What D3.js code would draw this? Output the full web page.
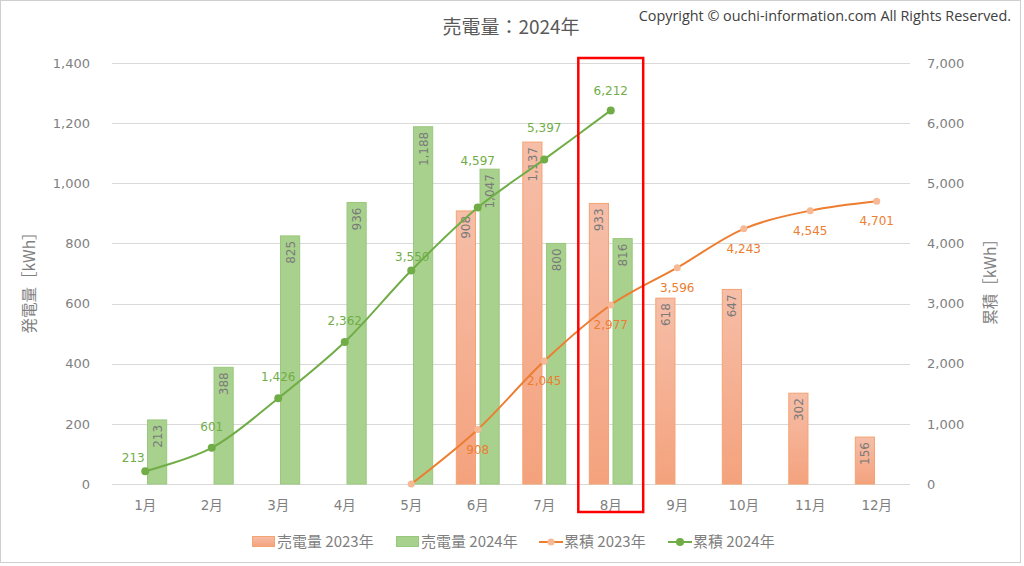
<!DOCTYPE html>
<html><head><meta charset="utf-8">
<script src="https://cdn.jsdelivr.net/npm/d3@7"></script>
<style>
html,body{margin:0;padding:0;background:#fff;}
svg{display:block;}
</style></head>
<body>
<svg id="chart" width="1024" height="566"></svg>
<script>
const months = ["1月","2月","3月","4月","5月","6月","7月","8月","9月","10月","11月","12月"];
const sales2023 = [null,null,null,null,null,908,1137,933,618,647,302,156];
const sales2024 = [213,388,825,936,1188,1047,800,816,null,null,null,null];
const cum2023 = [null,null,null,null,0,908,2045,2977,3596,4243,4545,4701];
const cum2024 = [213,601,1426,2362,3550,4597,5397,6212,null,null,null,null];
const leftTicks = [0,200,400,600,800,1000,1200,1400];
const rightTicks = [0,1000,2000,3000,4000,5000,6000,7000];
const titleText = "売電量：2024年";
const copyrightText = "Copyright © ouchi-information.com All Rights Reserved.";
const leftTitle = "発電量［kWh］";
const rightTitle = "累積［kWh］";
const legendLabels = ["売電量 2023年","売電量 2024年","累積 2023年","累積 2024年"];
const highlightMonth = "8月";

// label layout tweaks (px offsets, not data)
const green_dy = [-13,-21,-21,-21,-14,-47,-32,-20];
const green_dx = [-12,0,0,0,1,0,0,0];

const svg = d3.select("#chart");
const numFont = "'DejaVu Sans','Noto Sans CJK JP',sans-serif";
const jpFont = "'Noto Sans CJK JP','DejaVu Sans',sans-serif";
const C_OR = "#ed7d31", C_GR = "#70ad47", C_TXT = "#7f7f7f";

const defs = svg.append("defs");
const gO = defs.append("linearGradient").attr("id","gradO").attr("x1",0).attr("y1",0).attr("x2",0).attr("y2",1);
gO.append("stop").attr("offset","0%").attr("stop-color","#f6bea8");
gO.append("stop").attr("offset","100%").attr("stop-color","#f4a27d");

svg.append("rect").attr("x",0.5).attr("y",0.5).attr("width",1020).attr("height",562)
  .attr("fill","#fff").attr("stroke","#cfcfcf");

const plotL = 112, plotR = 910, plotT = 63, plotB = 484;
const x = d3.scaleBand().domain(months).range([plotL, plotR]).paddingInner(0.34).paddingOuter(0.17);
const x1 = d3.scaleBand().domain(["2023","2024"]).range([0, x.bandwidth()]).paddingInner(0.15);
const yL = d3.scaleLinear().domain([0,1400]).range([plotB, plotT]);
const yR = d3.scaleLinear().domain([0,7000]).range([plotB, plotT]);
const cx = m => x(m) + x.bandwidth()/2;

// gridlines
svg.append("g").selectAll("line").data(leftTicks).join("line")
  .attr("x1",plotL).attr("x2",plotR)
  .attr("y1",d=>Math.round(yL(d))+0.5).attr("y2",d=>Math.round(yL(d))+0.5)
  .attr("stroke","#d9d9d9").attr("stroke-width",1);

// left axis
const axL = svg.append("g").attr("transform",`translate(${plotL},0)`)
  .call(d3.axisLeft(yL).tickValues(leftTicks).tickFormat(d3.format(",")).tickSize(0).tickPadding(22));
axL.select(".domain").remove();
axL.selectAll("text").attr("font-family",numFont).attr("font-size",13).attr("fill",C_TXT);

// right axis
const axR = svg.append("g").attr("transform",`translate(${plotR},0)`)
  .call(d3.axisRight(yR).tickValues(rightTicks).tickFormat(d3.format(",")).tickSize(0).tickPadding(17));
axR.select(".domain").remove();
axR.selectAll("text").attr("font-family",numFont).attr("font-size",13).attr("fill",C_TXT);

// bottom axis
const axB = svg.append("g").attr("transform",`translate(0,${plotB})`)
  .call(d3.axisBottom(x).tickSize(0).tickPadding(16));
axB.select(".domain").remove();
axB.selectAll("text").attr("font-family",numFont).attr("font-size",13.5).attr("fill",C_TXT);

// bars
const barData = [];
months.forEach((m,i)=>{
  if (sales2023[i]!=null) barData.push({m, s:"2023", v:sales2023[i]});
  if (sales2024[i]!=null) barData.push({m, s:"2024", v:sales2024[i]});
});
const bars = svg.append("g");
bars.selectAll("rect").data(barData).join("rect")
  .attr("x",d=>x(d.m)+x1(d.s)+0.5)
  .attr("y",d=>yL(d.v))
  .attr("width",x1.bandwidth()-1)
  .attr("height",d=>plotB-yL(d.v))
  .attr("fill",d=>d.s==="2023"?"url(#gradO)":"#a9d18e")
  .attr("stroke",d=>d.s==="2023"?"#f4a371":"#98c87b")
  .attr("stroke-width",1);
bars.selectAll("text").data(barData).join("text")
  .attr("transform",d=>`translate(${x(d.m)+x1(d.s)+x1.bandwidth()/2+4.5},${yL(d.v)+5}) rotate(-90)`)
  .attr("text-anchor","end")
  .attr("font-family",numFont).attr("font-size",12).attr("fill","#7a7a7a")
  .text(d=>d3.format(",")(d.v));

// lines
const line = d3.line().defined(d=>d.v!=null).x(d=>cx(d.m)).y(d=>yR(d.v)).curve(d3.curveCatmullRom.alpha(0.5));
const o23 = months.map((m,i)=>({m,v:cum2023[i]}));
const o24 = months.map((m,i)=>({m,v:cum2024[i]}));
svg.append("path").datum(o23.filter(d=>d.v!=null)).attr("d",line).attr("fill","none").attr("stroke",C_OR).attr("stroke-width",2);
svg.append("path").datum(o24.filter(d=>d.v!=null)).attr("d",line).attr("fill","none").attr("stroke",C_GR).attr("stroke-width",2);
svg.append("g").selectAll("circle").data(o23.filter(d=>d.v!=null)).join("circle")
  .attr("cx",d=>cx(d.m)).attr("cy",d=>yR(d.v)).attr("r",3.5).attr("fill","#f7b995");
svg.append("g").selectAll("circle").data(o24.filter(d=>d.v!=null)).join("circle")
  .attr("cx",d=>cx(d.m)).attr("cy",d=>yR(d.v)).attr("r",4).attr("fill",C_GR);

// line labels
svg.append("g").selectAll("text").data(o23.filter(d=>d.v!=null && d.v>0)).join("text")
  .attr("x",d=>cx(d.m)).attr("y",d=>yR(d.v)+20).attr("dy","0.35em")
  .attr("text-anchor","middle").attr("font-family",numFont).attr("font-size",12).attr("fill",C_OR)
  .text(d=>d3.format(",")(d.v));
svg.append("g").selectAll("text").data(o24.filter(d=>d.v!=null)).join("text")
  .attr("x",(d,i)=>cx(d.m)+green_dx[i]).attr("y",(d,i)=>yR(d.v)+green_dy[i]).attr("dy","0.35em")
  .attr("text-anchor","middle").attr("font-family",numFont).attr("font-size",12).attr("fill",C_GR)
  .text(d=>d3.format(",")(d.v));

// axis titles
svg.append("text").attr("transform",`translate(35,279) rotate(-90)`)
  .attr("text-anchor","middle").attr("font-family",jpFont).attr("font-size",15.5).attr("fill",C_TXT).text(leftTitle);
svg.append("text").attr("transform",`translate(996,278) rotate(-90)`)
  .attr("text-anchor","middle").attr("font-family",jpFont).attr("font-size",15.5).attr("fill",C_TXT).text(rightTitle);

// title & copyright
svg.append("text").attr("x",511).attr("y",34).attr("text-anchor","middle")
  .attr("font-family","'Noto Sans CJK JP','Noto Sans',sans-serif").attr("font-size",19).attr("fill","#595959").text(titleText);
svg.append("text").attr("x",1011).attr("y",21).attr("text-anchor","end")
  .attr("font-family","'Open Sans','Noto Sans',sans-serif").attr("font-size",14.4).attr("fill","#404040").text(copyrightText);

// highlight rectangle
svg.append("rect").attr("x",x(highlightMonth)-10.5).attr("y",58)
  .attr("width",x.bandwidth()+21).attr("height",512-58)
  .attr("fill","none").attr("stroke","#ff0000").attr("stroke-width",2.5);

// legend
const lg = svg.append("g").attr("transform","translate(0,542)");
const lx = [252,396,539,668];
const items = legendLabels.map((t,i)=>({t, x:lx[i], i}));
const li = lg.selectAll("g").data(items).join("g").attr("transform",d=>`translate(${d.x},0)`);
li.each(function(d){
  const g = d3.select(this);
  if (d.i===0) g.append("rect").attr("x",0.5).attr("y",-5.5).attr("width",22).attr("height",10).attr("fill","url(#gradO)").attr("stroke","#f4a371");
  else if (d.i===1) g.append("rect").attr("x",0.5).attr("y",-5.5).attr("width",22).attr("height",10).attr("fill","#a9d18e").attr("stroke","#98c87b");
  else {
    const c = d.i===2?C_OR:C_GR;
    g.append("line").attr("x1",0).attr("x2",24).attr("y1",0).attr("y2",0).attr("stroke",c).attr("stroke-width",2);
    g.append("circle").attr("cx",12).attr("cy",0).attr("r",d.i===2?3.5:4).attr("fill",d.i===2?"#f7b995":C_GR);
  }
  g.append("text").attr("x",25).attr("y",0).attr("dy","0.35em")
    .attr("font-family",jpFont).attr("font-size",15).attr("fill","#7f7f7f").text(d.t);
});
</script>
</body></html>
